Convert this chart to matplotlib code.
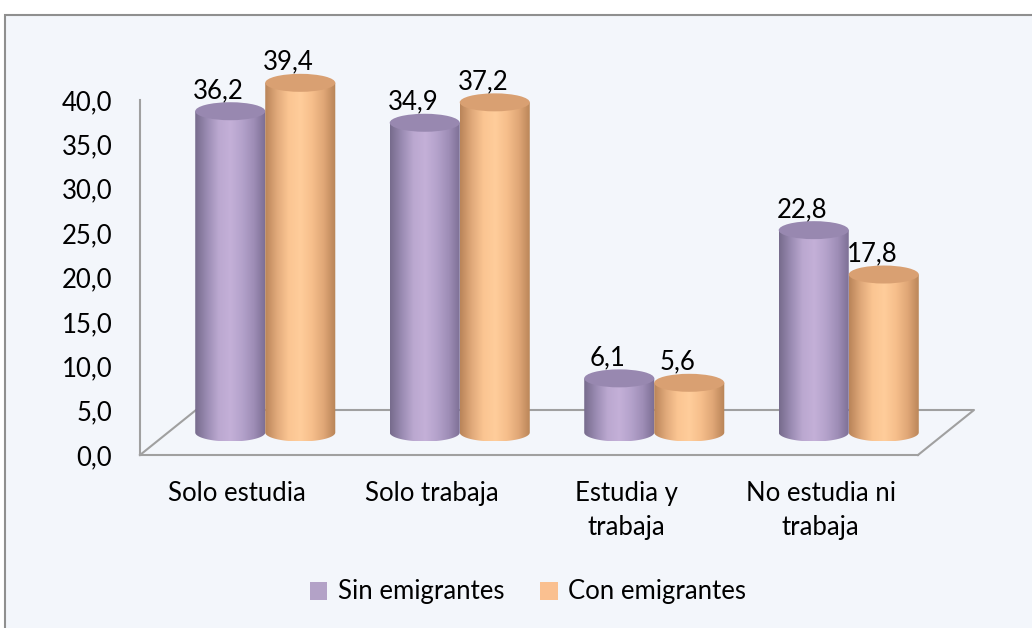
import numpy as np
import matplotlib.pyplot as plt
from matplotlib.patches import Rectangle, Ellipse, PathPatch, Patch
from matplotlib.path import Path
from matplotlib.colors import LinearSegmentedColormap
from matplotlib.ticker import FuncFormatter

categorias = ["Solo estudia", "Solo trabaja", "Estudia y\ntrabaja", "No estudia ni\ntrabaja"]
series = ["Sin emigrantes", "Con emigrantes"]
sin_emigrantes = [36.2, 34.9, 6.1, 22.8]
con_emigrantes = [39.4, 37.2, 5.6, 17.8]

plt.rcParams['font.family'] = ['Lato', 'DejaVu Sans']
FS = 18.5

W, H = 1032, 628
fig = plt.figure(figsize=(W / 100, H / 100), dpi=100, facecolor='white')

# panel background
fig.patches.append(Rectangle((5 / W, -0.1), 1.1, 1 - 15 / H + 0.1, transform=fig.transFigure,
                             facecolor='#f3f6fb', edgecolor='#8f8f8f', lw=1.5, zorder=-10))

left, right, top, bottom = 140, 918, 100, 455
ax = fig.add_axes([left / W, 1 - bottom / H, (right - left) / W, (bottom - top) / H])
ax.set_facecolor('none')

ymax = 40
px_x = (right - left) / 4
px_y = (bottom - top) / ymax
dx = 56 / px_x      # depth offset (x, data units)
dy = 45 / px_y      # depth offset (y, data units)
hw = 0.18           # cylinder half width
ell = 9 / px_y      # ellipse half height

grey = '#a0a0a0'
# floor
ax.plot([0, dx, 4 + dx, 4], [0, dy, dy, 0], color=grey, lw=1.5, clip_on=False, zorder=1)
for s in ['top', 'right']:
    ax.spines[s].set_visible(False)
ax.spines['left'].set_color(grey)
ax.spines['bottom'].set_color(grey)
ax.spines['left'].set_linewidth(1.5)
ax.spines['bottom'].set_linewidth(1.5)

purple_stops = ['#766b8c', '#9a8bb2', '#bba8d0', '#c4b0d8', '#b4a2cb', '#9e8db6', '#7a6d92']
orange_stops = ['#b98459', '#e0a97a', '#fbc592', '#ffcd9b', '#f6be8b', '#dfa676', '#b78356']
tops = ['#9888b0', '#d9a072']
stops_all = [purple_stops, orange_stops]

base = dy / 2
grad = np.linspace(0, 1, 256)[None, :]
z = 3
for i in range(4):
    for j, vals in enumerate([sin_emigrantes, con_emigrantes]):
        v = vals[i]
        cx = i + 0.5 + (j - 0.5) * 2 * hw + dx / 2
        x0, x1 = cx - hw, cx + hw
        y0, y1 = base, base + v
        t = np.linspace(np.pi, 2 * np.pi, 60)
        arc = np.column_stack([cx + hw * np.cos(t), y0 + ell * np.sin(t)])
        verts = np.vstack([[x0, y1], [x0, y0], arc, [x1, y1], [x0, y1]])
        clip = PathPatch(Path(verts), transform=ax.transData)
        cmap = LinearSegmentedColormap.from_list('c%d' % j, stops_all[j])
        im = ax.imshow(grad, cmap=cmap, extent=(x0, x1, y0 - ell, y1), aspect='auto',
                       origin='lower', interpolation='bilinear', zorder=z)
        im.set_clip_box(fig.bbox)
        im.set_clip_path(clip)
        ax.add_patch(Ellipse((cx, y1), 2 * hw, 2 * ell, facecolor=tops[j], edgecolor='none',
                             zorder=z + 0.5, clip_on=False))
        ax.text(cx - 0.06, y1 + ell - 0.1, ('%.1f' % v).replace('.', ','), ha='center', va='bottom',
                fontsize=FS, color='black', zorder=20, clip_on=False)
        z += 1

ax.set_xlim(0, 4)
ax.set_ylim(0, ymax)
ax.set_yticks(np.arange(0, 41, 5))
ax.yaxis.set_major_formatter(FuncFormatter(lambda v, p: ('%.1f' % v).replace('.', ',')))
ax.set_xticks(np.arange(4) + 0.5)
ax.set_xticklabels(categorias, linespacing=1.45)
ax.tick_params(axis='y', length=0, pad=20, labelsize=FS)
ax.tick_params(axis='x', length=0, pad=19, labelsize=FS)

handles = [Patch(facecolor='#b3a2c7'), Patch(facecolor='#fac090')]
fig.legend(handles, series, loc='center', bbox_to_anchor=(528 / W, 1 - 592 / H), ncol=2,
           frameon=False, fontsize=FS, handlelength=0.7, handleheight=0.7,
           handletextpad=0.4, columnspacing=1.4)

fig.savefig('out.png', dpi=100, facecolor='white')
